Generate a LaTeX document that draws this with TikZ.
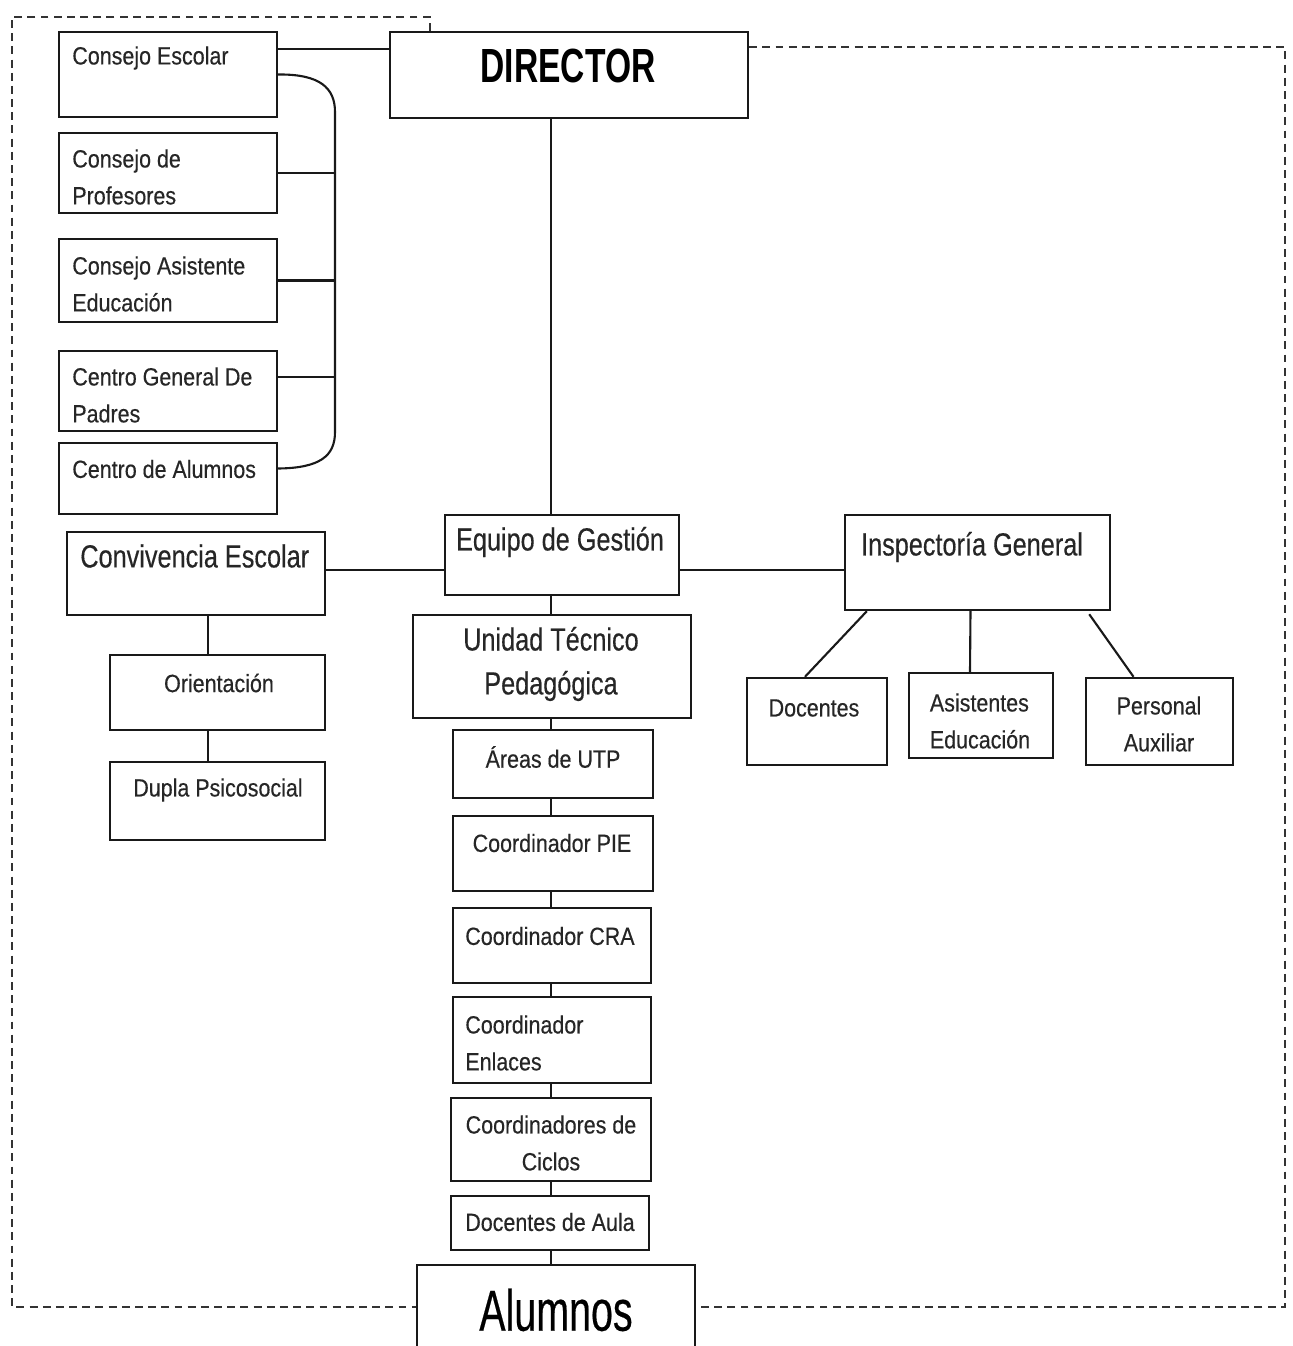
\documentclass[tikz,border=0pt]{standalone}
\usepackage{fontspec}
\setmainfont{Liberation Sans}
\newfontfamily\orgsmall[FakeStretch=0.86,FakeBold=0.35]{Liberation Sans}
\newfontfamily\orgmid[FakeStretch=0.79,FakeBold=0.35]{Liberation Sans}
\newfontfamily\orgdir[FakeStretch=0.70]{Liberation Sans}
\newfontfamily\orgbig[FakeStretch=0.68,FakeBold=0.3]{Liberation Sans}
\usetikzlibrary{fit}

\tikzset{
  orgbox/.style={draw=black!90, line width=1.4pt, fill=white, inner sep=0pt},
  smalltxt/.style={font=\orgsmall\fontsize{14.2}{21}\selectfont, inner sep=0pt, text=black!85},
  midtxt/.style={font=\orgmid\fontsize{18.2}{25}\selectfont, inner sep=0pt, text=black!85},
  link/.style={draw=black!90, line width=1.2pt},
  frame/.style={draw=black!80, line width=1.3pt, dash pattern=on 4.5pt off 3pt}
}

\begin{document}
\begin{tikzpicture}[x=0.02cm, y=-0.02cm]
  \useasboundingbox[fill=white] (0,0) rectangle (1292,1346);

  % Top row
  \node[orgbox, fit={(390,32) (748,118)}] (dir) {};
  \node[font=\orgdir\bfseries\fontsize{27.3}{30}\selectfont, inner sep=0pt] (dir-t) at (568,66) {DIRECTOR};

  % Councils on the left
  \node[orgbox, fit={(59,32) (277,117)}] (cesc) {};
  \node[orgbox, fit={(59,133) (277,213)}] (cprof) {};
  \node[orgbox, fit={(59,239) (277,322)}] (casis) {};
  \node[orgbox, fit={(59,351) (277,431)}] (cpad) {};
  \node[orgbox, fit={(59,443) (277,514)}] (calum) {};
  \node[smalltxt, anchor=west] (cesc-t) at (72,58) {Consejo Escolar};
  \node[smalltxt, anchor=west, align=left] (cprof-t) at (72,177) {Consejo de\\Profesores};
  \node[smalltxt, anchor=west, align=left] (casis-t) at (72,284) {Consejo Asistente\\Educación};
  \node[smalltxt, anchor=west, align=left] (cpad-t) at (72,395) {Centro General De\\Padres};
  \node[smalltxt, anchor=west] (calum-t) at (72,469) {Centro de Alumnos};

  % Management row
  \node[orgbox, fit={(445,515) (679,595)}] (equipo) {};
  \node[midtxt] (equipo-t) at (560,542) {Equipo de Gestión};
  \node[orgbox, fit={(67,532) (325,615)}] (conv) {};
  \node[midtxt, anchor=west] (conv-t) at (80,556) {Convivencia Escolar};
  \node[orgbox, fit={(845,515) (1110,610)}] (insp) {};
  \node[midtxt] (insp-t) at (972,547) {Inspectoría General};

  % Convivencia branch
  \node[orgbox, fit={(110,655) (325,730)}] (orient) {};
  \node[smalltxt] (orient-t) at (219,683) {Orientación};
  \node[orgbox, fit={(110,762) (325,840)}] (dupla) {};
  \node[smalltxt] (dupla-t) at (218,790) {Dupla Psicosocial};

  % UTP column
  \node[orgbox, fit={(413,615) (691,718)}] (utp) {};
  \node[midtxt, align=center] (utp-t) at (551,664) {Unidad Técnico\\Pedagógica};
  \node[orgbox, fit={(453,730) (653,798)}] (areas) {};
  \node[smalltxt] (areas-t) at (553,757) {Áreas de UTP};
  \node[orgbox, fit={(453,816) (653,891)}] (pie) {};
  \node[smalltxt] (pie-t) at (552,843) {Coordinador PIE};
  \node[orgbox, fit={(453,908) (651,983)}] (cra) {};
  \node[smalltxt] (cra-t) at (550,936) {Coordinador CRA};
  \node[orgbox, fit={(453,997) (651,1083)}] (enl) {};
  \node[smalltxt, anchor=west, align=left] (enl-t) at (465,1043) {Coordinador\\Enlaces};
  \node[orgbox, fit={(451,1098) (651,1181)}] (ciclos) {};
  \node[smalltxt, align=center] (ciclos-t) at (551,1143) {Coordinadores de\\Ciclos};
  \node[orgbox, fit={(451,1196) (649,1250)}] (aula) {};
  \node[smalltxt] (aula-t) at (550,1222) {Docentes de Aula};
  \node[orgbox, fit={(417,1265) (695,1380)}] (alum) {};
  \node[font=\orgbig\fontsize{33}{36}\selectfont, inner sep=0pt] (alum-t) at (556,1310) {Alumnos};

  % Inspectoria branch
  \node[orgbox, fit={(747,678) (887,765)}] (doc) {};
  \node[smalltxt] (doc-t) at (814,708) {Docentes};
  \node[orgbox, fit={(909,673) (1053,758)}] (asis) {};
  \node[smalltxt, align=left] (asis-t) at (980,721) {Asistentes\\Educación};
  \node[orgbox, fit={(1086,678) (1233,765)}] (pers) {};
  \node[smalltxt, align=center] (pers-t) at (1159,724) {Personal\\Auxiliar};

  % Helper coordinates
  \coordinate (spine) at (551,0);
  \coordinate (brk) at (335,0);
  \coordinate (dirlink) at (0,49);
  \coordinate (midrow) at (0,570);
  \coordinate (cvx) at (208,0);
  \coordinate (ftl) at (430,17);
  \coordinate (ftr) at (1285,47);
  \coordinate (fbot) at (0,1307);

  % Council bracket
  \draw[link] (cesc.east |- dirlink) -- (dir.west |- dirlink);
  \draw[link] (cesc.east) .. controls (320,74) and (335,88) .. (335,112)
    -- (335,432) .. controls (335,456) and (320,468) .. ([shift={(0,-10)}]calum.east);
  \draw[link] (cprof.east) -- (cprof.east -| brk);
  \draw[link] (casis.east) -- (casis.east -| brk);
  \draw[link] ([shift={(0,-14)}]cpad.east) -- ([shift={(0,-14)}]cpad.east -| brk);

  % Main spine
  \foreach \a/\b in {dir/equipo, equipo/utp, utp/areas, areas/pie, pie/cra, cra/enl, enl/ciclos, ciclos/aula, aula/alum}
    \draw[link] (\a.south -| spine) -- (\b.north -| spine);

  % Side branches
  \draw[link] (conv.east |- midrow) -- (equipo.west |- midrow);
  \draw[link] (equipo.east |- midrow) -- (insp.west |- midrow);
  \draw[link] (conv.south -| cvx) -- (orient.north -| cvx);
  \draw[link] (orient.south -| cvx) -- (dupla.north -| cvx);
  \draw[link] ([shift={(23,0)}]insp.south west) -- ([shift={(-12,0)}]doc.north);
  \draw[link] ([shift={(-7,0)}]insp.south) -- ([shift={(-11,0)}]asis.north);
  \draw[link] ([shift={(-22,3)}]insp.south east) -- ([shift={(-26,0)}]pers.north);

  % Dashed frame
  \draw[frame] (dir.north -| ftl) -- (ftl) -- (12,17) -- (12,1307) -- (alum.west |- fbot);
  \draw[frame] (dir.east |- ftr) -- (ftr) -- (1285,1307) -- (alum.east |- fbot);
\end{tikzpicture}
\end{document}
